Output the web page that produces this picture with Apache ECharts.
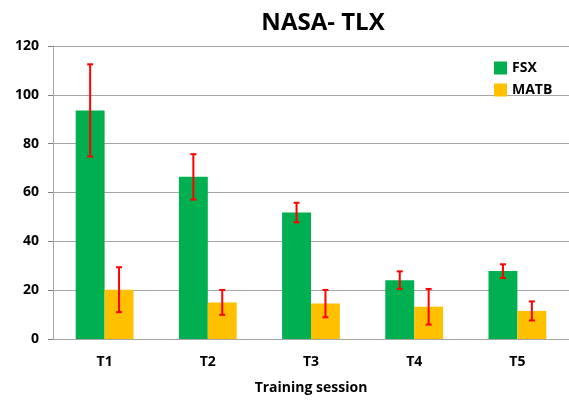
<!DOCTYPE html>
<html>
<head>
<meta charset="utf-8">
<script src="https://cdn.jsdelivr.net/npm/echarts@6/dist/echarts.min.js"></script>
<style>
  html, body { margin: 0; padding: 0; background: #fff; }
  #main { width: 569px; height: 400px; }
</style>
</head>
<body>
<div id="main"></div>
<script>
// data
var sessions = ['T1', 'T2', 'T3', 'T4', 'T5'];
var fsx = [93.6, 66.4, 51.8, 24.1, 27.8];
var fsxErr = [18.9, 9.3, 4.0, 3.6, 2.8];
var matb = [20.2, 15.0, 14.5, 13.2, 11.5];
var matbErr = [9.2, 5.1, 5.6, 7.3, 3.9];

var font = '"Open Sans", "Noto Sans", sans-serif';

// error bars drawn on top of the bars, shifted by half a bar width
function errorSeries(values, errs, shift) {
  return {
    type: 'custom',
    data: values.map(function (v, i) { return [i, v - errs[i], v + errs[i]]; }),
    encode: { x: 0, y: [1, 2] },
    z: 10,
    renderItem: function (params, api) {
      var band = api.size([1, 0])[0];
      var low = api.coord([api.value(0), api.value(1)]);
      var high = api.coord([api.value(0), api.value(2)]);
      var x = low[0] + band * shift;
      var cap = 3;
      var style = { stroke: '#ff0000', lineWidth: 2 };
      return {
        type: 'group',
        children: [
          { type: 'line', shape: { x1: x, y1: high[1], x2: x, y2: low[1] }, style: style },
          { type: 'line', shape: { x1: x - cap, y1: high[1], x2: x + cap, y2: high[1] }, style: style },
          { type: 'line', shape: { x1: x - cap, y1: low[1], x2: x + cap, y2: low[1] }, style: style }
        ]
      };
    }
  };
}

var option = {
  animation: false,
  title: {
    text: 'NASA- TLX',
    left: 318,
    textAlign: 'center',
    top: 6,
    textStyle: { fontFamily: font, fontSize: 24, fontWeight: 'bold', color: '#000' }
  },
  legend: {
    orient: 'vertical',
    left: 489,
    top: 56,
    itemWidth: 13,
    itemHeight: 13,
    itemGap: 8,
    icon: 'rect',
    data: ['FSX', 'MATB'],
    textStyle: { fontFamily: font, fontSize: 14, fontWeight: 'bold', color: '#000' }
  },
  grid: { left: 53, right: -2, top: 46, bottom: 58 },
  xAxis: {
    type: 'category',
    data: sessions,
    name: 'Training session',
    nameLocation: 'middle',
    nameGap: 42,
    nameTextStyle: { fontFamily: font, fontSize: 14, fontWeight: 'bold', color: '#000' },
    axisLine: { lineStyle: { color: '#a6a6a6', width: 1 } },
    axisTick: { alignWithLabel: false, length: 5, lineStyle: { color: '#808080' } },
    axisLabel: { fontFamily: font, fontSize: 14, fontWeight: 'bold', color: '#000', margin: 16 }
  },
  yAxis: {
    type: 'value',
    min: 0,
    max: 120,
    interval: 20,
    axisLine: { show: true, lineStyle: { color: '#a6a6a6' } },
    axisTick: { show: true, length: 5, lineStyle: { color: '#808080' } },
    splitLine: { lineStyle: { color: '#a6a6a6' } },
    axisLabel: { fontFamily: font, fontSize: 14, fontWeight: 'bold', color: '#000', margin: 14 }
  },
  series: [
    {
      name: 'FSX',
      type: 'bar',
      data: fsx,
      barWidth: '28%',
      barGap: '0%',
      itemStyle: { color: '#00b050' }
    },
    {
      name: 'MATB',
      type: 'bar',
      data: matb,
      barWidth: '28%',
      barGap: '0%',
      itemStyle: { color: '#ffc000' }
    },
    errorSeries(fsx, fsxErr, -0.14),
    errorSeries(matb, matbErr, 0.14)
  ]
};

var myChart = echarts.init(document.getElementById('main'));
myChart.setOption(option);
</script>
</body>
</html>
